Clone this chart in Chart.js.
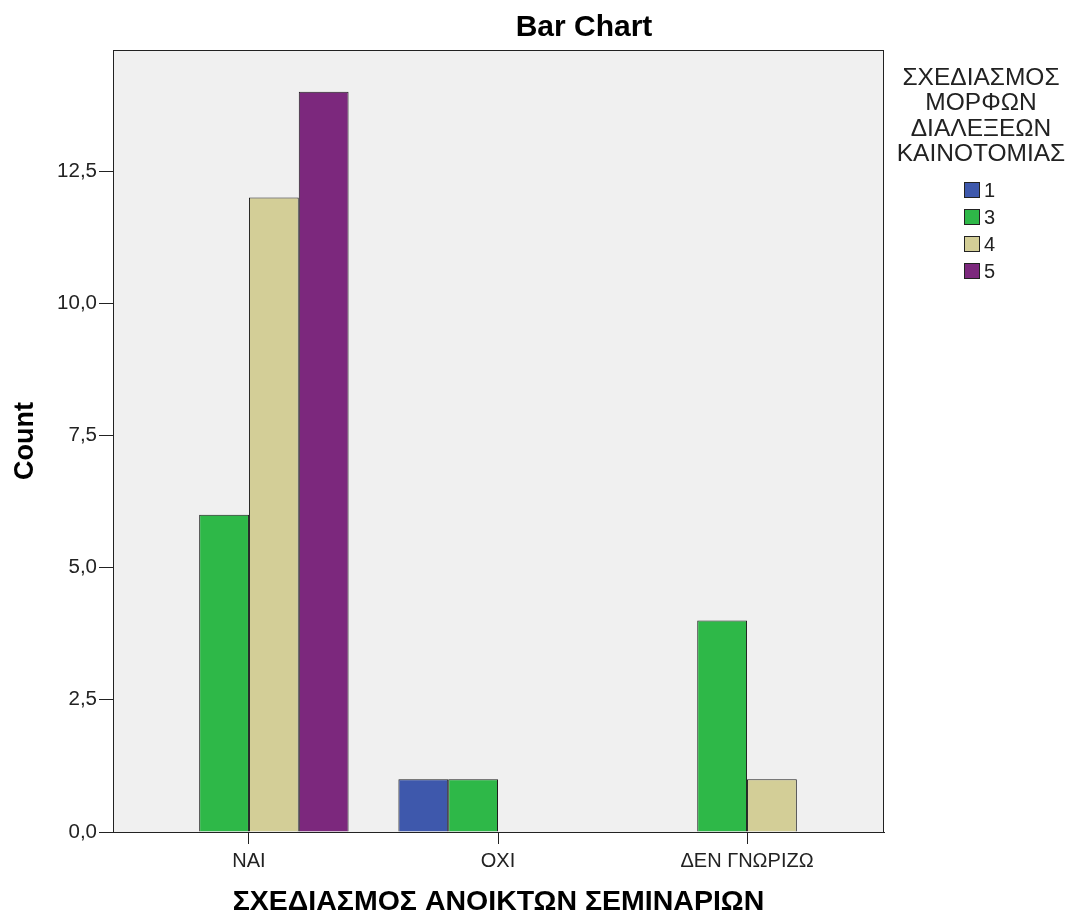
<!DOCTYPE html>
<html>
<head>
<meta charset="utf-8">
<script src="https://cdn.jsdelivr.net/npm/chart.js@4"></script>
<style>
  html, body { margin: 0; padding: 0; background: #fff; }
</style>
</head>
<body>
<canvas id="myChart" width="1070" height="918"></canvas>
<script>
// categories on the x axis and the four groups of the legend
const categories = ["ΝΑΙ", "ΟΧΙ", "ΔΕΝ ΓΝΩΡΙΖΩ"];
const groupLabels = ["1", "3", "4", "5"];
const count1 = [null, 1, null];
const count3 = [6, 1, 4];
const count4 = [12, null, 1];
const count5 = [14, null, null];
const yMax = 14.79;
const yStep = 2.5;
const chartTitle = "Bar Chart";
const yTitle = "Count";
const xTitle = "ΣΧΕΔΙΑΣΜΟΣ ΑΝΟΙΚΤΩΝ ΣΕΜΙΝΑΡΙΩΝ";
const legendTitle = ["ΣΧΕΔΙΑΣΜΟΣ", "ΜΟΡΦΩΝ", "ΔΙΑΛΕΞΕΩΝ", "ΚΑΙΝΟΤΟΜΙΑΣ"];
const colors = ["#3e58ac", "#2eb848", "#d3ce97", "#7c287d"];

const FONT = "'Liberation Sans', Arial, sans-serif";
const allCounts = [count1, count3, count4, count5];

const datasets = groupLabels.map((lab, k) => ({
  label: lab,
  data: categories.map((c, i) => ({ x: i, y: allCounts[k][i] })),
  backgroundColor: colors[k],
  borderColor: "#1e1e1e",
  borderWidth: 1,
  barPercentage: 1.0,
  categoryPercentage: 0.8
}));

// grey plot panel, frame, title and legend
const panel = {
  id: "panel",
  beforeDatasetsDraw(chart) {
    const { ctx, chartArea: a } = chart;
    ctx.save();
    ctx.fillStyle = "#f0f0f0";
    ctx.fillRect(a.left, a.top, a.right - a.left, a.bottom - a.top);
    ctx.restore();
  },
  afterDatasetsDraw(chart) {
    const { ctx, chartArea: a } = chart;
    ctx.save();
    ctx.strokeStyle = "#222";
    ctx.lineWidth = 1;
    ctx.strokeRect(Math.round(a.left) + 0.5, Math.round(a.top) + 0.5,
      Math.round(a.right - a.left) - 1, Math.round(a.bottom - a.top));
    ctx.restore();
  },
  afterDraw(chart) {
    const ctx = chart.ctx;
    ctx.save();
    ctx.fillStyle = "#000";
    ctx.textAlign = "center";
    ctx.textBaseline = "middle";
    ctx.font = "bold 30px " + FONT;
    ctx.fillText(chartTitle, 584, 28);

    // legend
    ctx.font = "24.5px " + FONT;
    ctx.fillStyle = "#222";
    legendTitle.forEach((t, i) => ctx.fillText(t, 981, 78 + i * 25.5));
    ctx.textAlign = "left";
    ctx.font = "20px " + FONT;
    chart.data.datasets.forEach((ds, i) => {
      const y = 190 + i * 27;
      ctx.fillStyle = ds.backgroundColor;
      ctx.fillRect(964, y - 8, 16, 16);
      ctx.strokeStyle = "#222";
      ctx.lineWidth = 1;
      ctx.strokeRect(964.5, y - 7.5, 15, 15);
      ctx.fillStyle = "#222";
      ctx.fillText(ds.label, 984, y + 1);
    });
    ctx.restore();
  }
};

const barCanvas = document.getElementById("myChart");
const barChart = new Chart(barCanvas, {
  type: "bar",
  data: { datasets: datasets },
  plugins: [panel],
  options: {
    responsive: false,
    animation: false,
    layout: { padding: { top: 50, right: 186, bottom: 0, left: 0 } },
    plugins: {
      legend: { display: false },
      title: { display: false },
      tooltip: { enabled: false }
    },
    scales: {
      x: {
        type: "linear",
        offset: false,
        min: -0.546,
        max: 2.55,
        afterFit: (scale) => { scale.height = 86; },
        ticks: {
          stepSize: 1,
          includeBounds: false,
          autoSkip: false,
          maxRotation: 0,
          padding: 5,
          color: "#222",
          font: { family: FONT, size: 20 },
          callback: (v) => (Number.isInteger(v) ? categories[v] : "")
        },
        grid: {
          drawOnChartArea: false,
          tickLength: 12,
          tickColor: "#222",
          offset: false
        },
        border: { color: "#222" },
        title: {
          display: true,
          text: xTitle,
          color: "#000",
          font: { family: FONT, size: 28.5, weight: "bold", lineHeight: 1.1 },
          padding: { top: 0, bottom: 0 }
        }
      },
      y: {
        min: 0,
        max: yMax,
        afterFit: (scale) => { scale.width = 113; },
        ticks: {
          stepSize: yStep,
          includeBounds: false,
          padding: 2,
          color: "#222",
          font: { family: FONT, size: 20.5 },
          callback: (v) => v.toFixed(1).replace(".", ",")
        },
        grid: {
          drawOnChartArea: false,
          tickLength: 14,
          tickColor: "#222"
        },
        border: { color: "#222" },
        title: {
          display: true,
          text: yTitle,
          color: "#000",
          font: { family: FONT, size: 27, weight: "bold", lineHeight: 1.2 },
          padding: { top: 9, bottom: 0 }
        }
      }
    }
  }
});
</script>
</body>
</html>
